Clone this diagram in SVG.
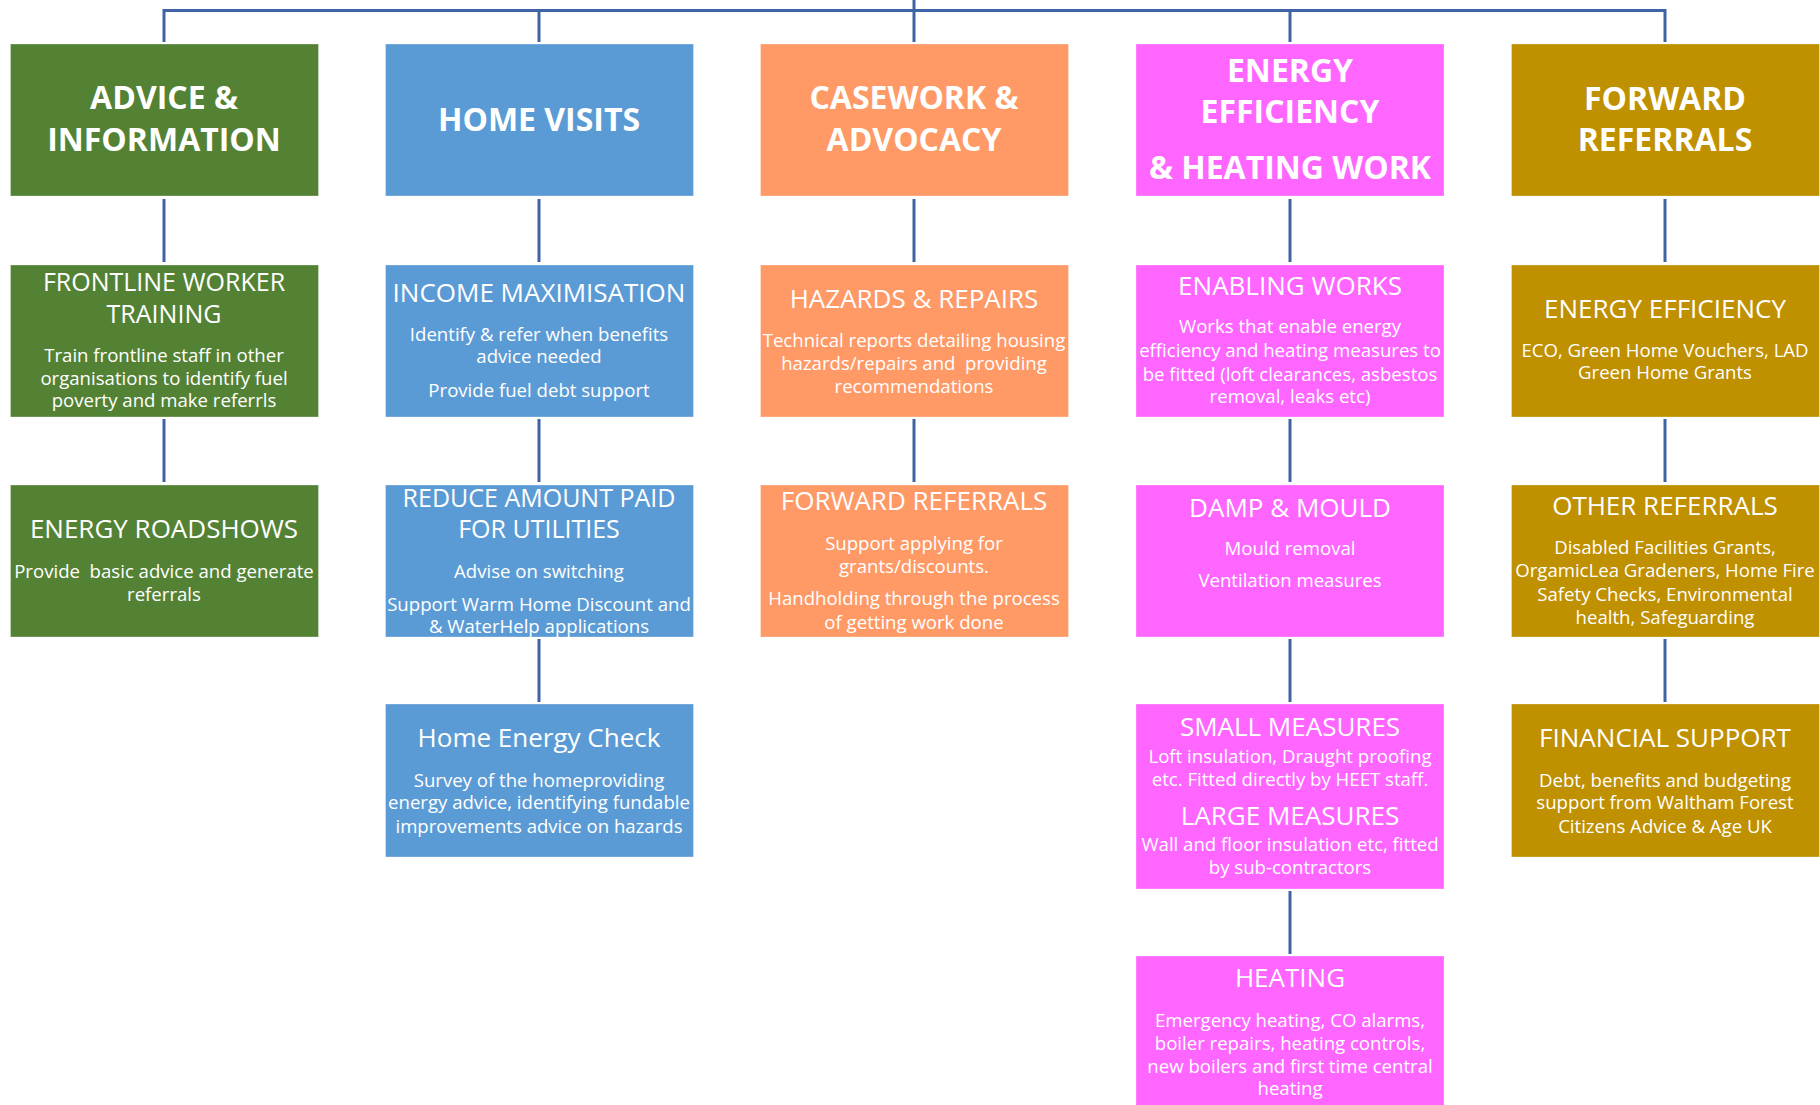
<svg xmlns="http://www.w3.org/2000/svg" width="1820" height="1105" viewBox="0 0 1820 1105">
<style>
  .box{stroke:#ffffff;stroke-opacity:0.3;stroke-width:1}
  .g{fill:#548235}.b{fill:#5B9BD5}.o{fill:#FF9966}.p{fill:#FF66FF}.y{fill:#BF9000}
  text{font-family:"Open Sans","DejaVu Sans",sans-serif;fill:#ffffff;text-anchor:middle}
  .h{font-weight:700;font-size:32px}
  .s{font-size:26px}
  .s2{font-size:25px}
  .t{font-size:18.6px}
  .c{stroke:#3F64A6;stroke-width:3;fill:none}
</style>
<rect width="1820" height="1105" fill="#ffffff"/>
<g id="connectors">
  <path class="c" d="M914 0V10.5M164 42V10.5H1665V42M539 10.5V42M914 10.5V42M1290 10.5V42"/>
  <path class="c" d="M164 199V262M164 419V482"/>
  <path class="c" d="M539 199V262M539 419V482M539 639V702"/>
  <path class="c" d="M914 199V262M914 419V482"/>
  <path class="c" d="M1290 199V262M1290 419V482M1290 639V702M1290 891V954"/>
  <path class="c" d="M1665 199V262M1665 419V482M1665 639V702"/>
</g>
<g id="advice-information">
  <rect class="box g" x="10.5" y="44" width="308" height="152"/>
  <text class="h" x="164" y="109">ADVICE &amp;</text>
  <text class="h" x="164" y="151">INFORMATION</text>
</g>
<g id="home-visits">
  <rect class="box b" x="385.5" y="44" width="308" height="152"/>
  <text class="h" x="539" y="131">HOME VISITS</text>
</g>
<g id="casework-advocacy">
  <rect class="box o" x="760.5" y="44" width="308" height="152"/>
  <text class="h" x="914" y="109">CASEWORK &amp;</text>
  <text class="h" x="914" y="151">ADVOCACY</text>
</g>
<g id="energy-efficiency-heating">
  <rect class="box p" x="1136" y="44" width="308" height="152"/>
  <text class="h" x="1290" y="82">ENERGY</text>
  <text class="h" x="1290" y="123">EFFICIENCY</text>
  <text class="h" x="1290" y="179">&amp; HEATING WORK</text>
</g>
<g id="forward-referrals">
  <rect class="box y" x="1511.5" y="44" width="308" height="152"/>
  <text class="h" x="1665" y="110">FORWARD</text>
  <text class="h" x="1665" y="151">REFERRALS</text>
</g>
<g id="frontline-worker-training">
  <rect class="box g" x="10.5" y="265" width="308" height="152"/>
  <text class="s2" x="164" y="291">FRONTLINE WORKER</text>
  <text class="s2" x="164" y="323">TRAINING</text>
  <text class="t" x="164" y="362">Train frontline staff in other</text>
  <text class="t" x="164" y="385">organisations to identify fuel</text>
  <text class="t" x="164" y="407">poverty and make referrls</text>
</g>
<g id="energy-roadshows">
  <rect class="box g" x="10.5" y="485" width="308" height="152"/>
  <text class="s" x="164" y="538">ENERGY ROADSHOWS</text>
  <text class="t" x="164" y="578" xml:space="preserve">Provide  basic advice and generate</text>
  <text class="t" x="164" y="601">referrals</text>
</g>
<g id="income-maximisation">
  <rect class="box b" x="385.5" y="265" width="308" height="152"/>
  <text class="s" x="539" y="302">INCOME MAXIMISATION</text>
  <text class="t" x="539" y="341">Identify &amp; refer when benefits</text>
  <text class="t" x="539" y="363">advice needed</text>
  <text class="t" x="539" y="397">Provide fuel debt support</text>
</g>
<g id="reduce-amount-paid">
  <rect class="box b" x="385.5" y="485" width="308" height="152"/>
  <text class="s2" x="539" y="507">REDUCE AMOUNT PAID</text>
  <text class="s2" x="539" y="538">FOR UTILITIES</text>
  <text class="t" x="539" y="578">Advise on switching</text>
  <text class="t" x="539" y="611">Support Warm Home Discount and</text>
  <text class="t" x="539" y="633">&amp; WaterHelp applications</text>
</g>
<g id="home-energy-check">
  <rect class="box b" x="385.5" y="704" width="308" height="153"/>
  <text class="s" x="539" y="747">Home Energy Check</text>
  <text class="t" x="539" y="787">Survey of the homeproviding</text>
  <text class="t" x="539" y="809">energy advice, identifying fundable</text>
  <text class="t" x="539" y="833">improvements advice on hazards</text>
</g>
<g id="hazards-repairs">
  <rect class="box o" x="760.5" y="265" width="308" height="152"/>
  <text class="s" x="914" y="308">HAZARDS &amp; REPAIRS</text>
  <text class="t" x="914" y="347">Technical reports detailing housing</text>
  <text class="t" x="914" y="370" xml:space="preserve">hazards/repairs and  providing</text>
  <text class="t" x="914" y="393">recommendations</text>
</g>
<g id="forward-referrals-casework">
  <rect class="box o" x="760.5" y="485" width="308" height="152"/>
  <text class="s" x="914" y="510">FORWARD REFERRALS</text>
  <text class="t" x="914" y="550">Support applying for</text>
  <text class="t" x="914" y="573">grants/discounts.</text>
  <text class="t" x="914" y="605">Handholding through the process</text>
  <text class="t" x="914" y="629">of getting work done</text>
</g>
<g id="enabling-works">
  <rect class="box p" x="1136" y="265" width="308" height="152"/>
  <text class="s" x="1290" y="295">ENABLING WORKS</text>
  <text class="t" x="1290" y="333">Works that enable energy</text>
  <text class="t" x="1290" y="357">efficiency and heating measures to</text>
  <text class="t" x="1290" y="381">be fitted (loft clearances, asbestos</text>
  <text class="t" x="1290" y="403">removal, leaks etc)</text>
</g>
<g id="damp-mould">
  <rect class="box p" x="1136" y="485" width="308" height="152"/>
  <text class="s" x="1290" y="517">DAMP &amp; MOULD</text>
  <text class="t" x="1290" y="555">Mould removal</text>
  <text class="t" x="1290" y="587">Ventilation measures</text>
</g>
<g id="small-large-measures">
  <rect class="box p" x="1136" y="704" width="308" height="185"/>
  <text class="s" x="1290" y="736">SMALL MEASURES</text>
  <text class="t" x="1290" y="763">Loft insulation, Draught proofing</text>
  <text class="t" x="1290" y="786">etc. Fitted directly by HEET staff.</text>
  <text class="s" x="1290" y="825">LARGE MEASURES</text>
  <text class="t" x="1290" y="851">Wall and floor insulation etc, fitted</text>
  <text class="t" x="1290" y="874">by sub-contractors</text>
</g>
<g id="heating">
  <rect class="box p" x="1136" y="956" width="308" height="152"/>
  <text class="s" x="1290" y="987">HEATING</text>
  <text class="t" x="1290" y="1027">Emergency heating, CO alarms,</text>
  <text class="t" x="1290" y="1050">boiler repairs, heating controls,</text>
  <text class="t" x="1290" y="1073">new boilers and first time central</text>
  <text class="t" x="1290" y="1095">heating</text>
</g>
<g id="energy-efficiency-referrals">
  <rect class="box y" x="1511.5" y="265" width="308" height="152"/>
  <text class="s" x="1665" y="318">ENERGY EFFICIENCY</text>
  <text class="t" x="1665" y="357">ECO, Green Home Vouchers, LAD</text>
  <text class="t" x="1665" y="379">Green Home Grants</text>
</g>
<g id="other-referrals">
  <rect class="box y" x="1511.5" y="485" width="308" height="152"/>
  <text class="s" x="1665" y="515">OTHER REFERRALS</text>
  <text class="t" x="1665" y="554">Disabled Facilities Grants,</text>
  <text class="t" x="1665" y="577">OrgamicLea Gradeners, Home Fire</text>
  <text class="t" x="1665" y="601">Safety Checks, Environmental</text>
  <text class="t" x="1665" y="624">health, Safeguarding</text>
</g>
<g id="financial-support">
  <rect class="box y" x="1511.5" y="704" width="308" height="153"/>
  <text class="s" x="1665" y="747">FINANCIAL SUPPORT</text>
  <text class="t" x="1665" y="787">Debt, benefits and budgeting</text>
  <text class="t" x="1665" y="809">support from Waltham Forest</text>
  <text class="t" x="1665" y="833">Citizens Advice &amp; Age UK</text>
</g>
</svg>
